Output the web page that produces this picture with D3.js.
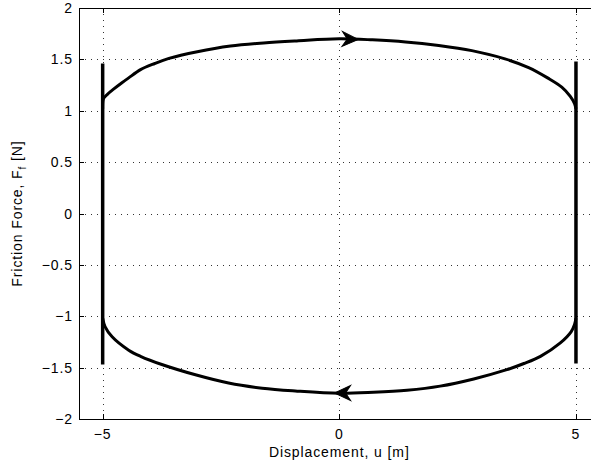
<!DOCTYPE html>
<html>
<head>
<meta charset="utf-8">
<script src="https://cdn.jsdelivr.net/npm/d3@7"></script>
<style>
  body { margin: 0; background: #fff; }
  svg { display: block; font-family: "Liberation Sans", Arial, Helvetica, sans-serif; }
</style>
</head>
<body>
<svg id="chart" width="591" height="467"></svg>
<script>
// loop branches (displacement u, friction force F)
var uTop = [-5, -4.98, -4.9, -4.77, -4.6, -4.45, -4.2, -3.9, -3.6, -3.0, -2.3, -1.6, -0.9, 0, 0.7, 1.4, 2.1, 2.8, 3.5, 4.0, 4.4, 4.7, 4.88, 4.97, 5];
var fTop = [1.02, 1.12, 1.16, 1.21, 1.27, 1.32, 1.40, 1.46, 1.51, 1.575, 1.63, 1.66, 1.68, 1.70, 1.69, 1.67, 1.635, 1.585, 1.505, 1.42, 1.32, 1.23, 1.14, 1.07, 1.02];
var uBot = [5, 4.97, 4.9, 4.67, 4.25, 3.9, 3.54, 2.84, 2.13, 1.43, 0.72, 0, -0.93, -1.63, -2.34, -3.04, -3.75, -4.2, -4.45, -4.8, -4.95, -5];
var fBot = [-1.02, -1.08, -1.15, -1.26, -1.39, -1.46, -1.52, -1.61, -1.68, -1.72, -1.74, -1.75, -1.727, -1.70, -1.65, -1.57, -1.47, -1.39, -1.33, -1.20, -1.10, -1.02];

// vertical stick segments at the reversal points
var uStick = [-5, 5];
var fStickLo = [-1.47, -1.46];
var fStickHi = [1.46, 1.48];

// direction arrows: position of tip along each branch
var arrowU = [0.4, -0.1];
var arrowDir = [1, -1];

var xTicks = [-5, 0, 5];
var yTicks = [-2, -1.5, -1, -0.5, 0, 0.5, 1, 1.5, 2];

var padLeft = 79, padTop = 8, padBottom = 419;
var unit = 47.33;

var x = d3.scaleLinear().domain([-5.5, 5.5]).range([padLeft, padLeft + 11 * unit]);
var y = d3.scaleLinear().domain([-2, 2]).range([padBottom, padTop]);

var svg = d3.select("#chart");

function fmt(v) {
  return String(v).replace("-", "\u2212");
}

// grid
var grid = svg.append("g")
  .attr("stroke", "#333")
  .attr("stroke-width", 1)
  .attr("stroke-dasharray", "1,5");
xTicks.forEach(function(t) {
  grid.append("line")
    .attr("x1", Math.round(x(t)) + 0.5).attr("x2", Math.round(x(t)) + 0.5)
    .attr("y1", padTop).attr("y2", padBottom);
});
yTicks.forEach(function(t) {
  grid.append("line")
    .attr("x1", padLeft).attr("x2", 591)
    .attr("y1", Math.round(y(t)) + 0.5).attr("y2", Math.round(y(t)) + 0.5);
});

// axes box
var axes = svg.append("g").attr("stroke", "#000").attr("stroke-width", 1).attr("fill", "none");
axes.append("line").attr("x1", padLeft + 0.5).attr("x2", padLeft + 0.5).attr("y1", padTop).attr("y2", padBottom + 0.5);
axes.append("line").attr("x1", padLeft).attr("x2", 591).attr("y1", padTop + 0.5).attr("y2", padTop + 0.5);
axes.append("line").attr("x1", padLeft).attr("x2", 591).attr("y1", padBottom + 0.5).attr("y2", padBottom + 0.5);

// inward ticks
xTicks.forEach(function(t) {
  var px = Math.round(x(t)) + 0.5;
  axes.append("line").attr("x1", px).attr("x2", px).attr("y1", padBottom).attr("y2", padBottom - 5);
  axes.append("line").attr("x1", px).attr("x2", px).attr("y1", padTop).attr("y2", padTop + 5);
});
yTicks.forEach(function(t) {
  var py = Math.round(y(t)) + 0.5;
  axes.append("line").attr("x1", padLeft).attr("x2", padLeft + 5).attr("y1", py).attr("y2", py);
});

// tick labels
svg.append("g").selectAll("text").data(xTicks).join("text")
  .attr("x", function(d) { return x(d); })
  .attr("y", 439)
  .attr("text-anchor", "middle")
  .attr("font-size", 14)
  .attr("letter-spacing", 0.9)
  .text(fmt);
svg.append("g").selectAll("text").data(yTicks).join("text")
  .attr("x", 73)
  .attr("y", function(d) { return y(d) + 5; })
  .attr("text-anchor", "end")
  .attr("font-size", 14)
  .attr("letter-spacing", 0.9)
  .text(fmt);

// axis titles
svg.append("text")
  .attr("x", x(0))
  .attr("y", 457)
  .attr("text-anchor", "middle")
  .attr("font-size", 14)
  .attr("letter-spacing", 0.9)
  .text("Displacement, u [m]");

var yl = svg.append("text")
  .attr("transform", "translate(22," + y(0) + ") rotate(-90)")
  .attr("text-anchor", "middle")
  .attr("font-size", 14)
  .attr("letter-spacing", 0.9);
yl.append("tspan").text("Friction Force, F");
yl.append("tspan").attr("dy", 4).attr("font-size", 10).text("f");
yl.append("tspan").attr("dy", -4).text(" [N]");

// curves
var plot = svg.append("g");
var line = d3.line()
  .x(function(d) { return x(d[0]); })
  .y(function(d) { return y(d[1]); })
  .curve(d3.curveCatmullRom);

var upper = uTop.map(function(u, i) { return [u, fTop[i]]; });
var lower = uBot.map(function(u, i) { return [u, fBot[i]]; });

[upper, lower].forEach(function(branch) {
  plot.append("path")
    .datum(branch)
    .attr("d", line)
    .attr("fill", "none").attr("stroke", "#000").attr("stroke-width", 3)
    .attr("stroke-linejoin", "round");
});

uStick.forEach(function(u, i) {
  plot.append("line")
    .attr("x1", x(u)).attr("x2", x(u))
    .attr("y1", y(fStickLo[i])).attr("y2", y(fStickHi[i]))
    .attr("stroke", "#000").attr("stroke-width", 3.5);
});

// arrowheads
var branches = [[uTop, fTop], [uBot, fBot]];
arrowU.forEach(function(u, i) {
  var us = branches[i][0], fs = branches[i][1];
  var order = us.map(function(v, k) { return [v, fs[k]]; }).sort(function(a, b) { return a[0] - b[0]; });
  var interp = d3.scaleLinear().domain(order.map(function(d) { return d[0]; })).range(order.map(function(d) { return d[1]; }));
  var tx = x(u), ty = y(interp(u));
  var bx = x(u - arrowDir[i] * 0.3), by = y(interp(u - arrowDir[i] * 0.3));
  var ang = Math.atan2(ty - by, tx - bx) * 180 / Math.PI;
  plot.append("path")
    .attr("d", "M0,0 L-16,-7.5 L-11,0 L-16,7.5 Z")
    .attr("transform", "translate(" + tx + "," + ty + ") rotate(" + ang + ")")
    .attr("fill", "#000").attr("stroke", "#000").attr("stroke-width", 1)
    .attr("stroke-linejoin", "miter");
});
</script>
</body>
</html>
